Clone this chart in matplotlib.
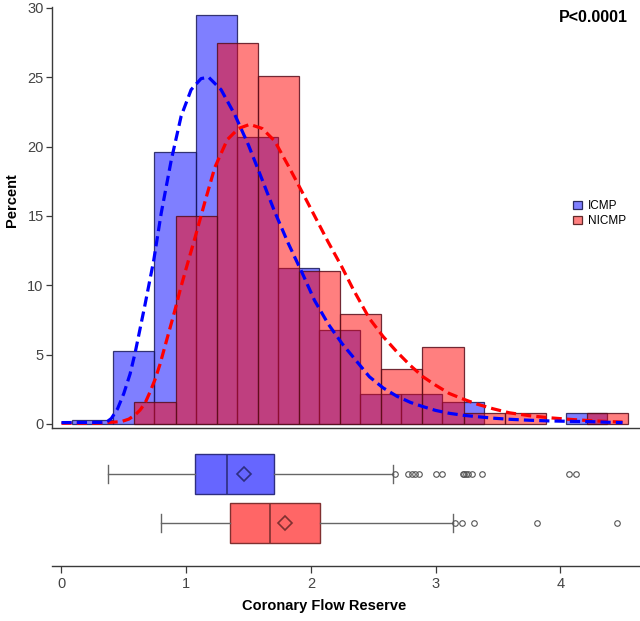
import numpy as np
import matplotlib
matplotlib.use('Agg')
import matplotlib.pyplot as plt
from matplotlib.patches import Patch

plt.rcParams['font.family'] = ['Liberation Sans', 'DejaVu Sans']

# ---------------- data ----------------
groups = ['ICMP', 'NICMP']
bin_width = 0.33

icmp_bin_mid = [0.25, 0.58, 0.91, 1.24, 1.57, 1.90, 2.23, 2.56, 2.89, 3.22, 3.55, 3.88, 4.21]
icmp_pct = [0.27, 5.25, 19.6, 29.45, 20.67, 11.27, 6.81, 2.14, 2.14, 1.61, 0.0, 0.0, 0.77]

nicmp_bin_mid = [0.75, 1.08, 1.41, 1.74, 2.07, 2.40, 2.73, 3.06, 3.39, 3.72, 4.05, 4.38]
nicmp_pct = [1.60, 15.0, 27.5, 25.1, 11.03, 7.91, 3.97, 5.53, 0.77, 0.77, 0.0, 0.77]

icmp_curve_x = [0.0, 0.36, 0.40, 0.45, 0.50, 0.55, 0.59, 0.67, 0.74, 0.80, 0.88, 0.96, 1.04,
                1.12, 1.18, 1.28, 1.39, 1.50, 1.61, 1.71, 1.82, 1.93, 2.03, 2.14, 2.25, 2.36,
                2.47, 2.58, 2.69, 2.80, 2.90, 3.00, 3.11, 3.22, 3.33, 3.46, 3.59, 3.75, 3.91,
                4.08, 4.24, 4.40, 4.50]
icmp_curve_y = [0.1, 0.12, 0.4, 1.1, 2.2, 3.6, 5.1, 8.6, 11.8, 15.2, 19.0, 22.2, 24.1,
                24.9, 25.0, 24.1, 22.3, 20.1, 17.6, 15.3, 13.0, 10.9, 8.9, 7.2, 5.8, 4.6,
                3.4, 2.6, 2.0, 1.55, 1.25, 0.98, 0.77, 0.63, 0.53, 0.42, 0.34, 0.27, 0.22,
                0.19, 0.17, 0.12, 0.1]

nicmp_curve_x = [0.0, 0.30, 0.48, 0.54, 0.59, 0.63, 0.67, 0.71, 0.75, 0.79, 0.83, 0.87, 0.91,
                 0.95, 0.99, 1.07, 1.15, 1.23, 1.33, 1.42, 1.51, 1.61, 1.71, 1.82, 1.92, 2.03,
                 2.14, 2.25, 2.34, 2.47, 2.58, 2.69, 2.80, 2.90, 3.00, 3.11, 3.22, 3.33, 3.46,
                 3.59, 3.75, 3.91, 4.08, 4.24, 4.40, 4.50]
nicmp_curve_y = [0.05, 0.06, 0.17, 0.35, 0.65, 1.0, 1.5, 2.3, 3.2, 4.3, 5.6, 6.9, 8.2,
                 9.6, 10.9, 13.4, 16.0, 18.5, 20.5, 21.3, 21.6, 21.3, 20.4, 18.6, 16.9, 15.0,
                 13.1, 11.3, 9.7, 7.6, 6.3, 5.2, 4.2, 3.4, 2.8, 2.2, 1.8, 1.44, 1.1,
                 0.81, 0.6, 0.45, 0.33, 0.24, 0.17, 0.14]

icmp_box = dict(whislo=0.370, q1=1.073, med=1.327, q3=1.704, whishi=2.656, mean=1.461,
                fliers=[2.674, 2.781, 2.808, 2.835, 2.869, 3.003, 3.049, 3.217, 3.228, 3.244,
                        3.262, 3.289, 3.369, 4.072, 4.126])
nicmp_box = dict(whislo=0.798, q1=1.351, med=1.672, q3=2.073, whishi=3.142, mean=1.792,
                 fliers=[3.156, 3.209, 3.310, 3.811, 4.457])

x_ticks = [0, 1, 2, 3, 4]
y_ticks = [0, 5, 10, 15, 20, 25, 30]

# ---------------- figure ----------------
W, H = 640, 621
fig = plt.figure(figsize=(W / 100, H / 100), dpi=100)

def fx(px):
    return px / W

def fy(py):
    return 1 - py / H

xlim = (-0.076, 4.64)
ax_h = fig.add_axes([fx(52), fy(428), fx(640) - fx(52), fy(7) - fy(428)])
ax_b = fig.add_axes([fx(52), fy(566), fx(640) - fx(52), fy(432) - fy(566)])

blue_face = (0, 0, 1, 0.5)
red_face = (1, 0, 0, 0.5)
blue_edge = (0.1, 0.1, 0.35, 0.85)
red_edge = (0.35, 0.05, 0.1, 0.85)

bm = np.array(icmp_bin_mid); bp = np.array(icmp_pct)
rm = np.array(nicmp_bin_mid); rp = np.array(nicmp_pct)
ax_h.bar(bm[bp > 0], bp[bp > 0], width=bin_width, color=blue_face,
         edgecolor=blue_edge, linewidth=0.9, zorder=2)
ax_h.bar(rm[rp > 0], rp[rp > 0], width=bin_width, color=red_face,
         edgecolor=red_edge, linewidth=0.9, zorder=3)

dash = (0, (3.2, 1.6))
ax_h.plot(icmp_curve_x, icmp_curve_y, color='#0000FF', lw=2.3, linestyle=dash, zorder=5)
ax_h.plot(nicmp_curve_x, nicmp_curve_y, color='#FF0000', lw=2.3, linestyle=dash, zorder=4)

ax_h.set_xlim(*xlim)
ax_h.set_ylim(-0.29, 30.06)
ax_h.set_yticks(y_ticks)
ax_h.set_xticks([])
for s in ['top', 'right']:
    ax_h.spines[s].set_visible(False)
for s in ['left', 'bottom']:
    ax_h.spines[s].set_color('#3a3a3a')
    ax_h.spines[s].set_linewidth(1.0)
ax_h.tick_params(axis='y', direction='out', length=4, width=0.9, color='#3a3a3a',
                 labelsize=10.5, labelcolor='#444444', pad=2)

handles = [Patch(facecolor='#7F7FFF', edgecolor='#2a2a60', linewidth=0.9),
           Patch(facecolor='#FF7F7F', edgecolor='#602a2a', linewidth=0.9)]
fig.legend(handles, groups, loc='upper left', bbox_to_anchor=(fx(573), fy(200)),
           frameon=False, fontsize=8.5, handlelength=0.75, handleheight=0.75,
           handletextpad=0.5, labelspacing=0.25, borderpad=0, borderaxespad=0)

fig.text(fx(628), fy(18), 'P<0.0001', ha='right', va='center', fontsize=11.5,
         fontweight='bold', color='black')

# ---------------- box plots ----------------
def draw_box(ax, stats, pos, face, edge):
    st = dict(stats)
    st['label'] = ''
    kw = dict(positions=[pos], widths=0.816, patch_artist=True, showmeans=True,
              capwidths=[0.35],
              boxprops=dict(facecolor=face, edgecolor=edge, linewidth=1.0),
              medianprops=dict(color=edge, linewidth=1.2),
              whiskerprops=dict(color='#666666', linewidth=1.0),
              capprops=dict(color='#666666', linewidth=1.0),
              meanprops=dict(marker='D', markersize=7, markerfacecolor='none',
                             markeredgecolor=edge, markeredgewidth=1.2),
              flierprops=dict(marker='o', markersize=4, markerfacecolor='none',
                              markeredgecolor='#555555', markeredgewidth=0.8))
    try:
        ax.bxp([st], orientation='horizontal', **kw)
    except TypeError:
        ax.bxp([st], vert=False, **kw)

draw_box(ax_b, icmp_box, 1, '#6666FF', '#2E2E80')
draw_box(ax_b, nicmp_box, 2, '#FF6666', '#803030')

ax_b.set_xlim(*xlim)
ax_b.set_ylim(2.878, 0.143)
ax_b.set_yticks([])
ax_b.set_xticks(x_ticks)
ax_b.set_xticklabels([str(t) for t in x_ticks])
for s in ['top', 'right', 'left']:
    ax_b.spines[s].set_visible(False)
ax_b.spines['bottom'].set_color('#3a3a3a')
ax_b.spines['bottom'].set_linewidth(1.0)
ax_b.tick_params(axis='x', direction='out', length=5, width=0.9, color='#3a3a3a',
                 labelsize=10.5, labelcolor='#444444', pad=3)

fig.text(fx(12), fy(200), 'Percent', rotation=90, ha='center', va='center',
         fontsize=10.5, fontweight='bold')
fig.text(fx(324), fy(606), 'Coronary Flow Reserve', ha='center', va='center',
         fontsize=10.5, fontweight='bold')

fig.savefig('out.png', dpi=100)
